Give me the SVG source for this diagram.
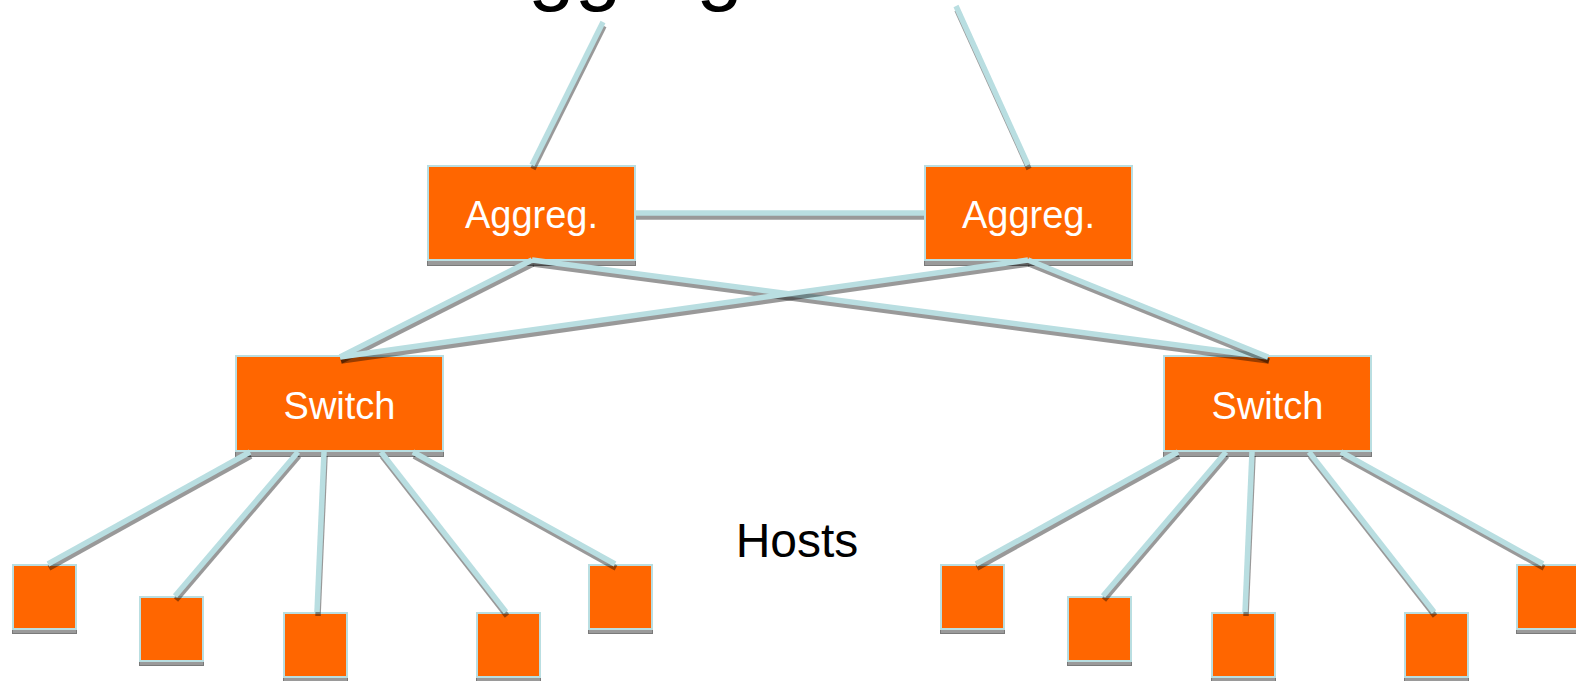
<svg xmlns="http://www.w3.org/2000/svg" width="1576" height="681" viewBox="0 0 1576 681">
  <style>
    .box { fill: #FF6600; stroke: #B9DEE1; stroke-width: 2; }
    .shadow { fill: #9A9A9A; stroke: #7A7A7A; stroke-width: 1; }
    .lbl { font-family: "Liberation Sans", Arial, sans-serif; font-size: 38px; fill: #FFFFFF; text-anchor: middle; }
    .title { font-family: "Liberation Sans", Arial, sans-serif; fill: #000000; }
    .sh { stroke: #000000; stroke-opacity: 0.4; stroke-width: 5.5; fill: none; }
    .ln { stroke: #B9DEE1; stroke-width: 5.5; fill: none; }
  </style>

  <!-- heading, mostly above the visible area -->
  <text class="title" x="472" y="-5" font-size="84">Aggregation</text>
  <text class="title" x="797" y="557" font-size="48" text-anchor="middle">Hosts</text>

  <!-- aggregation layer -->
  <g id="aggreg-left">
    <rect class="shadow" x="427.5" y="166.5" width="208" height="99"/>
    <rect class="box" x="428" y="166" width="207" height="94"/>
    <text class="lbl" x="531.5" y="228">Aggreg.</text>
  </g>
  <g id="aggreg-right">
    <rect class="shadow" x="924.5" y="166.5" width="208" height="99"/>
    <rect class="box" x="925" y="166" width="207" height="94"/>
    <text class="lbl" x="1028.5" y="228">Aggreg.</text>
  </g>

  <!-- edge switches -->
  <g id="switch-left">
    <rect class="shadow" x="235.5" y="356.5" width="208" height="100"/>
    <rect class="box" x="236" y="356" width="207" height="95"/>
    <text class="lbl" x="339.5" y="419">Switch</text>
  </g>
  <g id="switch-right">
    <rect class="shadow" x="1163.5" y="356.5" width="208" height="100"/>
    <rect class="box" x="1164" y="356" width="207" height="95"/>
    <text class="lbl" x="1267.5" y="419">Switch</text>
  </g>

  <!-- hosts under the left switch -->
  <g id="host-l1"><rect class="shadow" x="12.5" y="565.5" width="64" height="68"/><rect class="box" x="13" y="565" width="63" height="64"/></g>
  <g id="host-l2"><rect class="shadow" x="139.5" y="597.5" width="64" height="68"/><rect class="box" x="140" y="597" width="63" height="64"/></g>
  <g id="host-l3"><rect class="shadow" x="283.5" y="613.5" width="64" height="68"/><rect class="box" x="284" y="613" width="63" height="64"/></g>
  <g id="host-l4"><rect class="shadow" x="476.5" y="613.5" width="64" height="68"/><rect class="box" x="477" y="613" width="63" height="64"/></g>
  <g id="host-l5"><rect class="shadow" x="588.5" y="565.5" width="64" height="68"/><rect class="box" x="589" y="565" width="63" height="64"/></g>

  <!-- hosts under the right switch -->
  <g id="host-r1"><rect class="shadow" x="940.5" y="565.5" width="64" height="68"/><rect class="box" x="941" y="565" width="63" height="64"/></g>
  <g id="host-r2"><rect class="shadow" x="1067.5" y="597.5" width="64" height="68"/><rect class="box" x="1068" y="597" width="63" height="64"/></g>
  <g id="host-r3"><rect class="shadow" x="1211.5" y="613.5" width="64" height="68"/><rect class="box" x="1212" y="613" width="63" height="64"/></g>
  <g id="host-r4"><rect class="shadow" x="1404.5" y="613.5" width="64" height="68"/><rect class="box" x="1405" y="613" width="63" height="64"/></g>
  <g id="host-r5"><rect class="shadow" x="1516.5" y="565.5" width="64" height="68"/><rect class="box" x="1517" y="565" width="63" height="64"/></g>

  <!-- links: each drawn as a dropped shadow plus the cable on top -->
  <g id="connectors">
    <g><path class="sh" transform="translate(1,4)" d="M603 22 L532 165"/><path class="ln" d="M603 22 L532 165"/></g>
    <g><path class="sh" transform="translate(1,4)" d="M956 6 L1028 165"/><path class="ln" d="M956 6 L1028 165"/></g>
    <g><path class="sh" transform="translate(0,4)" d="M636 213 L924 213"/><path class="ln" d="M636 213 L924 213"/></g>

    <g><path class="sh" transform="translate(1,4)" d="M532 260 L340 357"/><path class="ln" d="M532 260 L340 357"/></g>
    <g><path class="sh" transform="translate(1,4)" d="M532 260 L1268 357"/><path class="ln" d="M532 260 L1268 357"/></g>
    <g><path class="sh" transform="translate(1,4)" d="M1028 260 L340 357"/><path class="ln" d="M1028 260 L340 357"/></g>
    <g><path class="sh" transform="translate(1,4)" d="M1028 260 L1268 357"/><path class="ln" d="M1028 260 L1268 357"/></g>

    <g><path class="sh" transform="translate(1,4)" d="M250 452 L48 564"/><path class="ln" d="M250 452 L48 564"/></g>
    <g><path class="sh" transform="translate(1,4)" d="M298 452 L175 596"/><path class="ln" d="M298 452 L175 596"/></g>
    <g><path class="sh" transform="translate(1,4)" d="M324 452 L317 612"/><path class="ln" d="M324 452 L317 612"/></g>
    <g><path class="sh" transform="translate(1,4)" d="M381 452 L506 612"/><path class="ln" d="M381 452 L506 612"/></g>
    <g><path class="sh" transform="translate(1,4)" d="M413 452 L615 564"/><path class="ln" d="M413 452 L615 564"/></g>

    <g><path class="sh" transform="translate(1,4)" d="M1178 452 L976 564"/><path class="ln" d="M1178 452 L976 564"/></g>
    <g><path class="sh" transform="translate(1,4)" d="M1226 452 L1103 596"/><path class="ln" d="M1226 452 L1103 596"/></g>
    <g><path class="sh" transform="translate(1,4)" d="M1252 452 L1245 612"/><path class="ln" d="M1252 452 L1245 612"/></g>
    <g><path class="sh" transform="translate(1,4)" d="M1309 452 L1434 612"/><path class="ln" d="M1309 452 L1434 612"/></g>
    <g><path class="sh" transform="translate(1,4)" d="M1341 452 L1543 564"/><path class="ln" d="M1341 452 L1543 564"/></g>
  </g>
</svg>
